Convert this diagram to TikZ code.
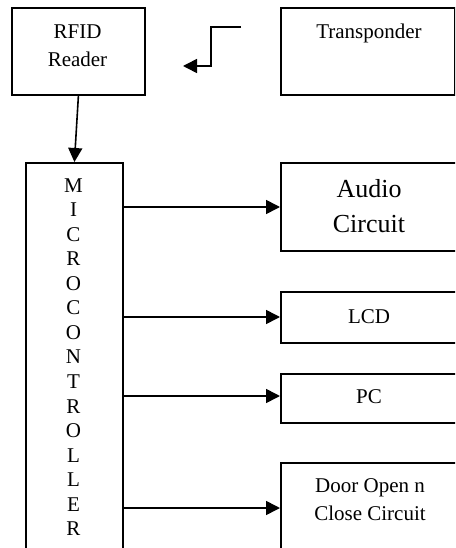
\documentclass[tikz,border=0pt]{standalone}
\usepackage{fontspec}
\setmainfont{Liberation Serif}
\usetikzlibrary{arrows.meta}
\begin{document}
\begin{tikzpicture}[x=1pt,y=-1pt,
  box/.style={draw, line width=1.8pt, inner sep=0pt, anchor=north west},
  arr/.style={line width=1.6pt, -{Triangle[length=14pt,width=14pt]}},
  txt/.style={anchor=base, inner sep=0pt, font=\fontsize{21}{24.5}\selectfont},
  bigtxt/.style={anchor=base, inner sep=0pt, font=\fontsize{26}{34}\selectfont}]
\useasboundingbox (0,0) rectangle (455,548);
\clip (0,0) rectangle (455,548);
% boxes
\node[box, minimum width=133pt, minimum height=87pt] (rfid) at (11,7) {};
\node[box, minimum width=174pt, minimum height=87pt] (trans) at (280,7) {};
\node[box, minimum width=97pt, minimum height=400pt] (micro) at (25,162) {};
\node[box, minimum width=182pt, minimum height=88pt] (audio) at (280,162) {};
\node[box, minimum width=182pt, minimum height=51pt] (lcd) at (280,291) {};
\node[box, minimum width=182pt, minimum height=49pt] (pc) at (280,373) {};
\node[box, minimum width=182pt, minimum height=100pt] (door) at (280,462) {};
% texts
\node[txt] (rfidA) at (77.5,39) {RFID};
\node[txt] (rfidB) at (77.5,67) {Reader};
\node[txt] (transA) at (369,39) {Transponder};
\node[bigtxt] (audioA) at (369,197) {Audio};
\node[bigtxt] (audioB) at (369,232) {Circuit};
\node[txt] (lcdA) at (369,323) {LCD};
\node[txt] (pcA) at (369,403) {PC};
\node[txt] (doorA) at (370,492) {Door Open n};
\node[txt] (doorB) at (370,520) {Close Circuit};
\foreach \l [count=\i from 0] in {M,I,C,R,O,C,O,N,T,R,O,L,L,E,R}
  \node[txt] (mc\i) at (73.5,192+24.57*\i) {\l};
% connectors
\draw[arr] (rfid.south) -- (micro.north);
\coordinate (bstart) at (241,27);
\coordinate (bcorner) at (211,66);
\coordinate (bend) at (183,66);
\draw[arr] (bstart) -| (bcorner) -- (bend);
\draw[arr] (micro.east |- 0,207) -- (audio.west |- 0,207);
\draw[arr] (micro.east |- 0,317) -- (lcd.west |- 0,317);
\draw[arr] (micro.east |- 0,396) -- (pc.west |- 0,396);
\draw[arr] (micro.east |- 0,508) -- (door.west |- 0,508);
\end{tikzpicture}
\end{document}
